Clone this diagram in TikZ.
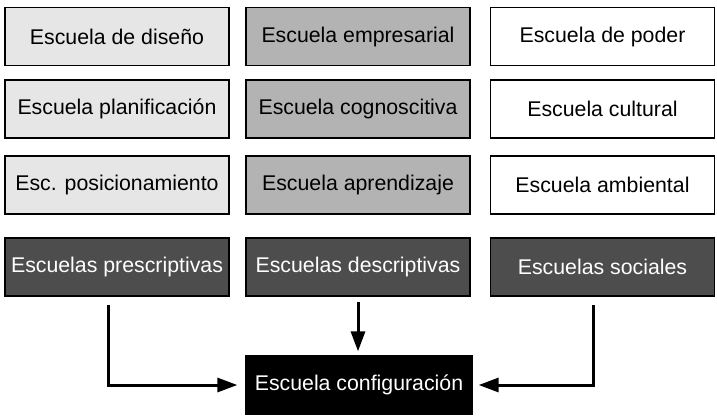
\documentclass[tikz,border=0pt]{standalone}
\usepackage{fontspec}
\setmainfont{Liberation Sans}
\usetikzlibrary{arrows.meta}
\definecolor{lightg}{HTML}{E6E6E6}
\definecolor{midg}{HTML}{B3B3B3}
\definecolor{darkg}{HTML}{4D4D4D}
\begin{document}
\begin{tikzpicture}[x=1pt,y=-1pt,
  box/.style={draw=black,line width=1.3pt,minimum width=224pt,minimum height=58pt,inner sep=0pt,font=\fontsize{21.3}{25}\selectfont},
  lbox/.style={box,fill=lightg},
  mbox/.style={box,fill=midg},
  wbox/.style={box,fill=white},
  dbox/.style={box,fill=darkg,text=white},
  kbox/.style={box,fill=black,text=white,minimum width=226pt},
  arr/.style={line width=3pt,-{Triangle[length=20pt,width=14pt]}}]
\useasboundingbox (0,0) rectangle (717,418);
\node[lbox] (d1) at (117,36.5) {Escuela de diseño};
\node[lbox] (d2) at (117,109) {Escuela planificación};
\node[lbox] (d3) at (117,185) {Esc. posicionamiento};
\node[dbox] (p) at (117,267) {Escuelas prescriptivas};
\node[mbox] (e1) at (358,36.5) {Escuela empresarial};
\node[mbox] (e2) at (358,109) {Escuela cognoscitiva};
\node[mbox] (e3) at (358,185) {Escuela aprendizaje};
\node[dbox] (ds) at (358,267) {Escuelas descriptivas};
\node[wbox] (w1) at (602.5,36.5) {Escuela de poder};
\node[wbox] (w2) at (602.5,109) {Escuela cultural};
\node[wbox] (w3) at (602.5,185) {Escuela ambiental};
\node[dbox] (s) at (602.5,267) {Escuelas sociales};
\node[kbox] (c) at (359,385) {Escuela configuración};
\coordinate (ls) at (108,305);
\coordinate (lc) at (108,385);
\coordinate (rs) at (593,305);
\coordinate (rc) at (593,385);
\coordinate (ms) at (358,302);
\draw[arr,shorten >=4pt] (ms) -- (c.north -| ms);
\draw[arr,shorten >=8pt] (ls) -- (lc) -- (c.west);
\draw[arr,shorten >=6pt] (rs) -- (rc) -- (c.east);
\end{tikzpicture}
\end{document}
